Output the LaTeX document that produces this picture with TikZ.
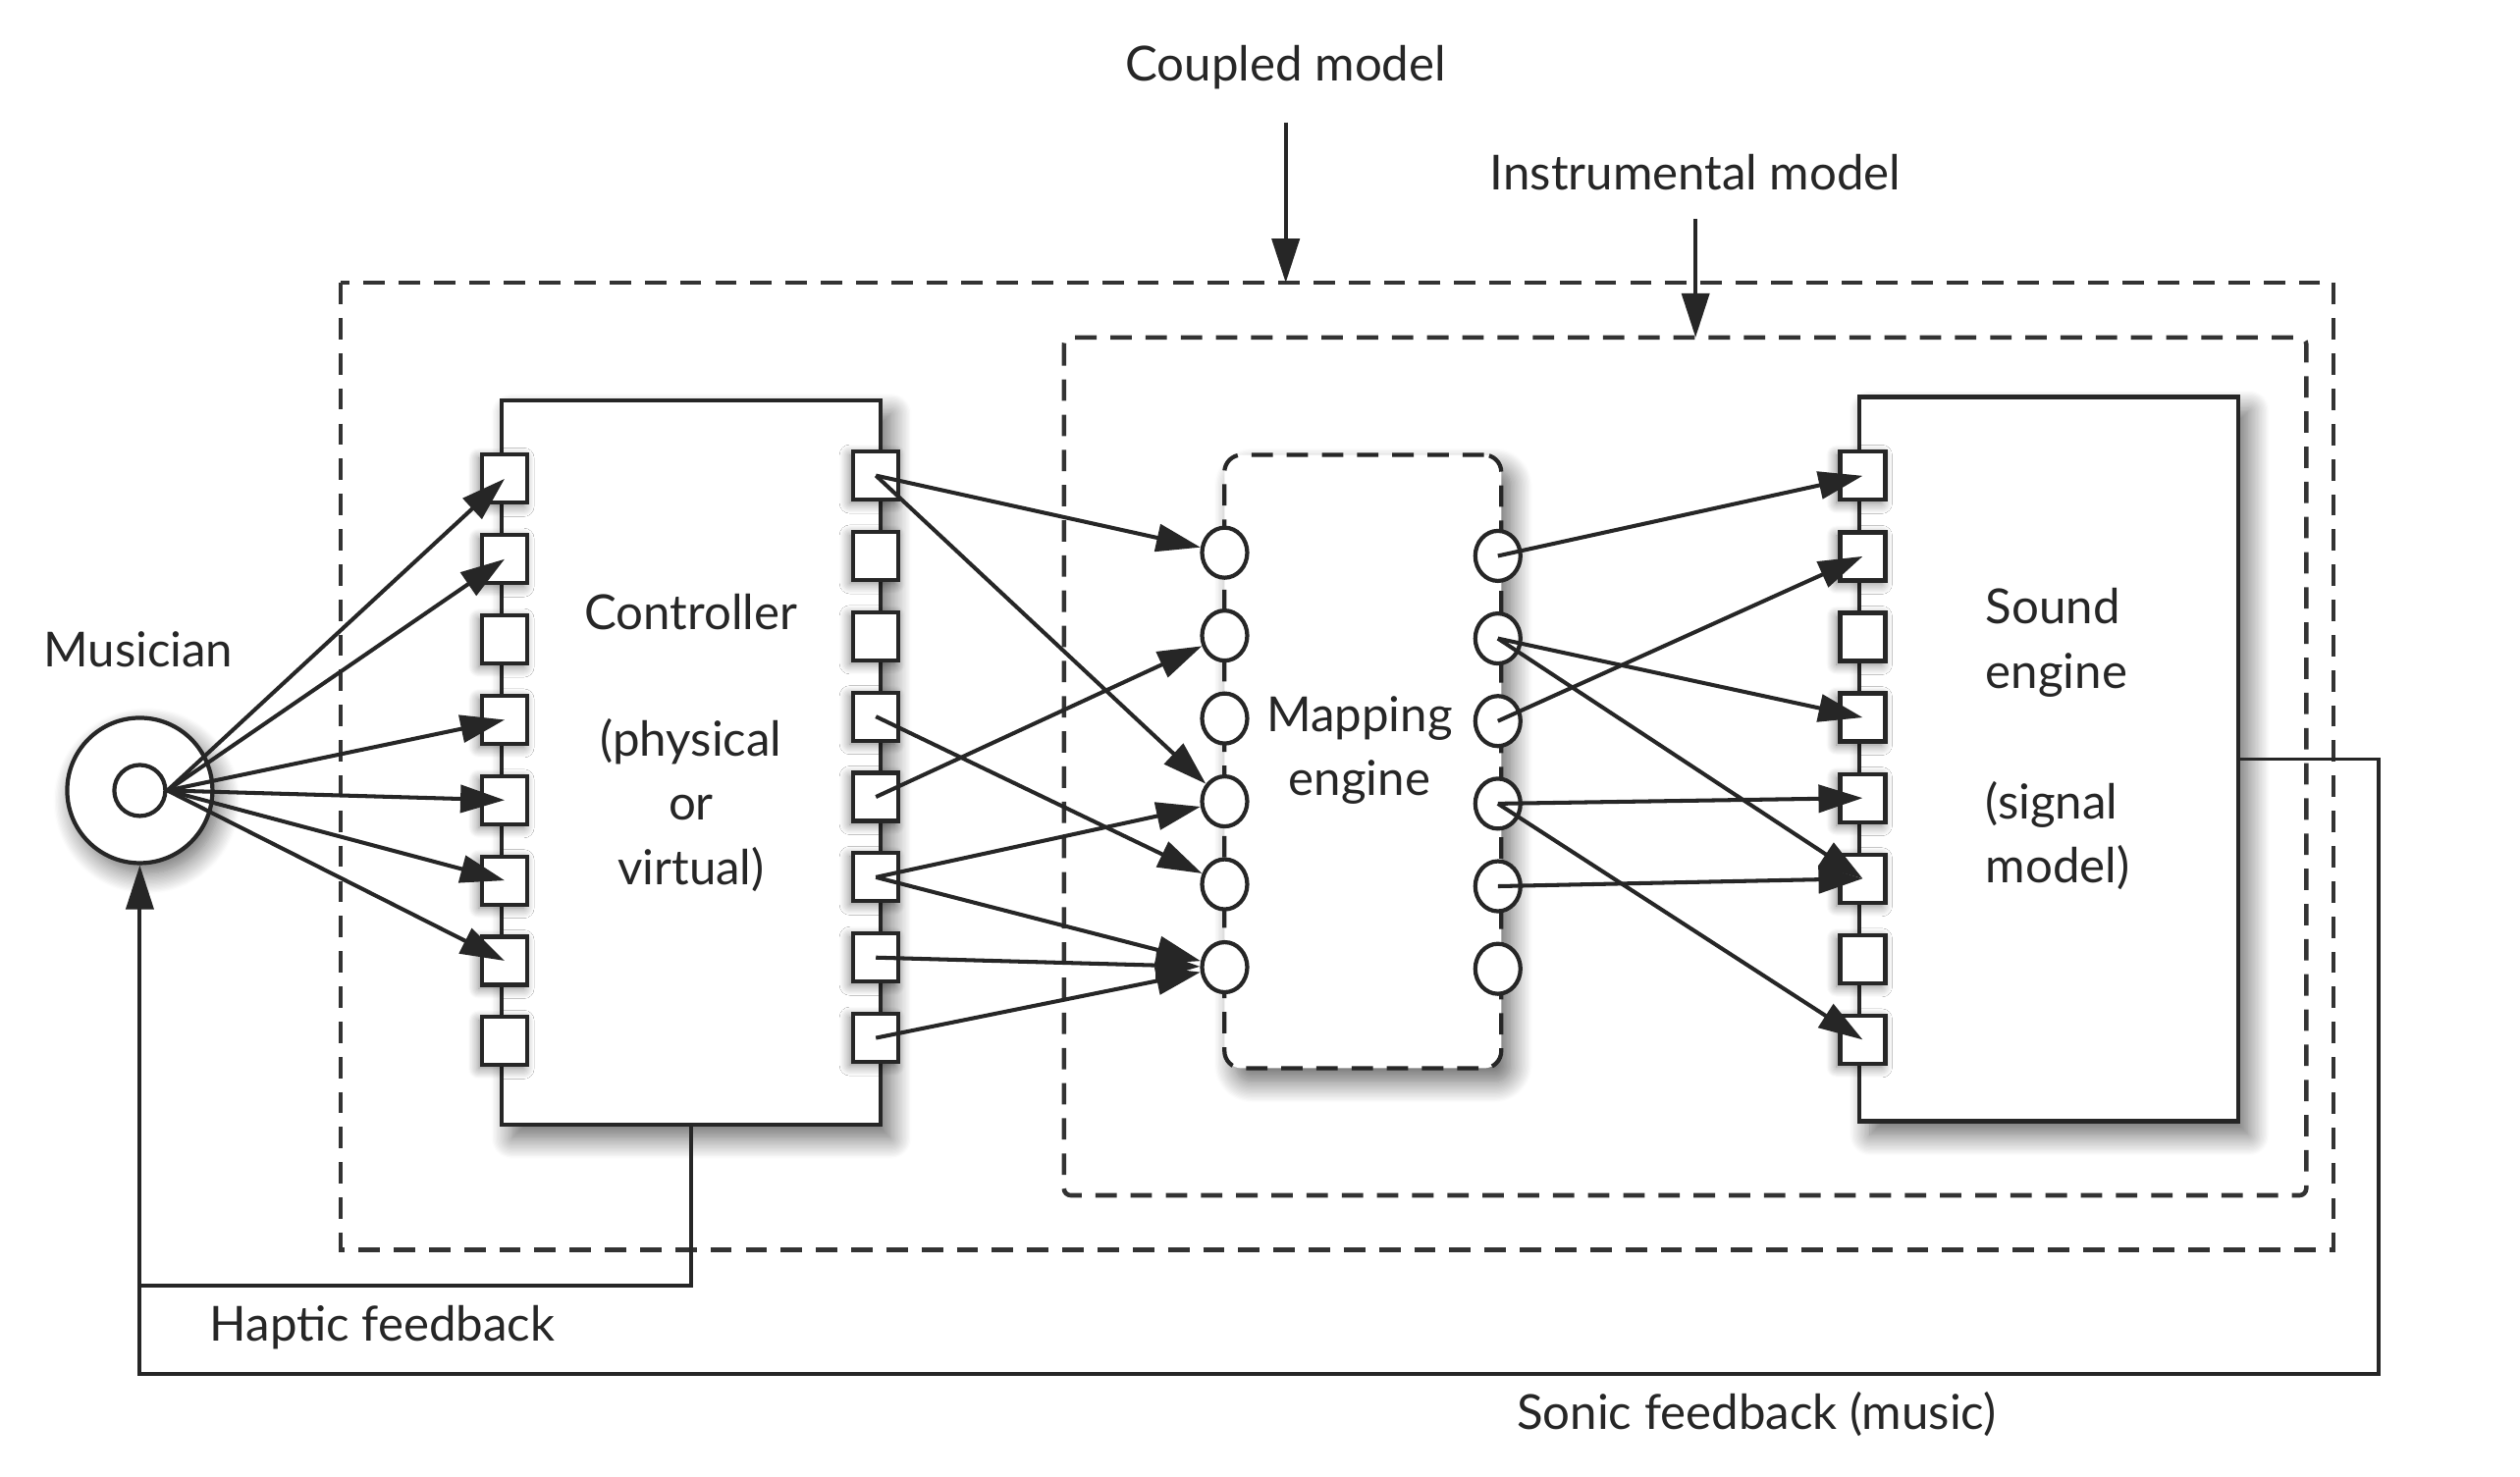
\documentclass[tikz,border=0pt]{standalone}
\usepackage{fontspec}
\setmainfont{Lato}
\usetikzlibrary{arrows.meta}
\usetikzlibrary{shapes.geometric}
\usetikzlibrary{shadows.blur}
\tikzset{
   model/.style={draw=black!80, line width=1.3pt, dash pattern=on 6.2pt off 4pt},
   block/.style={draw=black!85, line width=1.2pt, fill=white, rectangle,
      minimum width=3.86cm, minimum height=7.38cm,
      blur shadow={shadow xshift=3pt, shadow yshift=-4pt, shadow blur radius=6pt,
         shadow blur steps=16, shadow opacity=60}},
   port/.style={draw=black!85, line width=1.2pt, fill=white, rectangle,
      minimum width=0.46cm, minimum height=0.49cm, inner sep=0pt,
      blur shadow={shadow xshift=-1pt, shadow yshift=-1pt, shadow blur radius=3pt,
         shadow blur steps=10, shadow opacity=50}},
   socket/.style={draw=black!85, line width=1.2pt, fill=white, ellipse,
      minimum width=0.46cm, minimum height=0.51cm, inner sep=0pt},
   link/.style={draw=black!85, line width=1.15pt, -{Triangle[length=0.45cm,width=0.28cm]}},
   feedback/.style={draw=black!85, line width=1.1pt},
   lbl/.style={font=\fontsize{14}{18.6}\selectfont, text=black!85, align=center},
    }
\begin{document}
\begin{tikzpicture}[x=0.01637cm, y=-0.01637cm]
\useasboundingbox (0,0) rectangle (1568,919);
% the two models
\draw[model] (212,176) rectangle (1452,778);
\draw[model, rounded corners=2pt] (662,210) rectangle (1435,744);
\node[lbl] (coupled) at (800,42) {Coupled model};
\node[lbl] (instrumental) at (1055,107) {Instrumental model};
\coordinate (coupledtip) at (800,176);
\coordinate (instrumentaltip) at (1055,210);
\draw[link, shorten <=6pt] (coupled.south) -- (coupledtip);
\draw[link, shorten <=5pt] (instrumental.south) -- (instrumentaltip);
% blocks
\node[circle, draw=black!85, line width=1.2pt, fill=white, minimum size=1.48cm,
   blur shadow={shadow xshift=2pt, shadow yshift=-3pt, shadow blur radius=6pt,
      shadow blur steps=16, shadow opacity=60}] (musician) at (87,492) {};
\node[circle, draw=black!85, line width=1.2pt, minimum size=0.52cm] (musicianin) at (musician) {};
\node[lbl] (musicianlbl) at (86,404) {Musician};
\node[block] (controller) at (430,474.5) {};
\node[block, rounded corners=5pt, dash pattern=on 6.2pt off 4pt,
   minimum width=2.82cm, minimum height=6.25cm] (mapping) at (848,474) {};
\node[block] (sound) at (1275,472.5) {};
\node[lbl] (controllerlbl) at (430,381) {Controller};
\node[lbl] (controllersub) at (430,501) {(physical\\or\\virtual)};
\node[lbl] (mappinglbl) at (846,467) {Mapping\\engine};
\node[lbl, align=left, anchor=west] (soundlbl) at (1228,400) {Sound\\engine};
\node[lbl, align=left, anchor=west] (soundsub) at (1228,520) {(signal\\model)};
% ports
\foreach \i in {1,...,8} {
   \node[port] (cl\i) at (314,248+50*\i) {};
   \node[port] (cr\i) at (545,246+50*\i) {};
   \node[port] (sp\i) at (1159,246+50.14*\i) {};
}
\foreach \i in {1,...,6} {
   \node[socket] (mi\i) at (762,292.4+51.6*\i) {};
   \node[socket] (mo\i) at (932,294.6+51.4*\i) {};
}
% connections
\foreach \p in {1,2,4,5,6,7}
   \draw[link] (musicianin.east) -- (cl\p.center);
\foreach \a/\b in {1/1,1/4,4/5,5/2,6/4,6/6,7/6,8/6}
   \draw[link] (cr\a.center) -- (mi\b);
\foreach \a/\b in {1/1,2/4,2/6,3/2,4/5,4/8,5/6}
   \draw[link] (mo\a.center) -- (sp\b.center);
% feedback loops
\coordinate (hapticjoin) at (87,800);
\coordinate (soniccorner) at (1480,855);
\draw[feedback] (controller.south) |- (hapticjoin);
\draw[feedback, -{Triangle[length=0.45cm,width=0.28cm]}] (sound.east) -| (soniccorner) -| (musician.south);
\node[lbl] (haptic) at (238,826) {Haptic feedback};
\node[lbl] (sonic) at (1093,880) {Sonic feedback (music)};
\end{tikzpicture}
\end{document}
